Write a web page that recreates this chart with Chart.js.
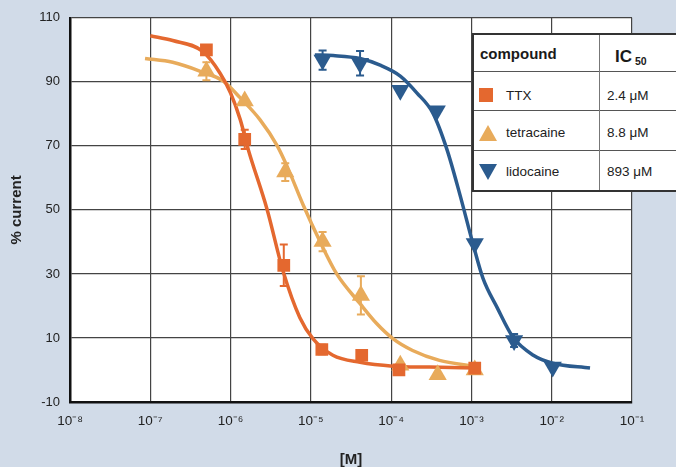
<!DOCTYPE html>
<html>
<head>
<meta charset="utf-8">
<script src="https://cdn.jsdelivr.net/npm/chart.js@4/dist/chart.umd.min.js"></script>
<style>
html,body{margin:0;padding:0;background:#d1dbe8;width:676px;height:467px;overflow:hidden;font-family:"Liberation Sans",Arial,sans-serif;}
#wrap{position:relative;width:676px;height:467px;overflow:hidden;}
#chart{position:absolute;left:0;top:0;}
#legend{position:absolute;left:472px;top:33px;width:240px;height:159px;background:#fff;border:2px solid #333;border-right:none;box-sizing:border-box;}
.hl{position:absolute;left:0;width:100%;height:0;border-top:1.5px solid #555;}
.vl{position:absolute;top:0;height:100%;width:0;border-left:1.5px solid #777;}
.cell{position:absolute;height:20px;line-height:20px;color:#222;white-space:nowrap;}
.hdr{font-weight:bold;color:#1a1a1a;}
</style>
</head>
<body>
<div id="wrap">
<canvas id="chart" width="676" height="467"></canvas>
<div id="legend"></div>
</div>
<script>
// ---- data ----
const categories = ['TTX', 'tetracaine', 'lidocaine'];
const ic50Labels = ['2.4 \u03bcM', '8.8 \u03bcM', '893 \u03bcM'];
const seriesColors = ['#e4682f', '#e8ab5b', '#2b5b8e'];
const xTickValues = [1e-8, 1e-7, 1e-6, 1e-5, 1e-4, 1e-3, 1e-2, 1e-1];
const xTickLabels = ['10\u207b\u2078', '10\u207b\u2077', '10\u207b\u2076', '10\u207b\u2075', '10\u207b\u2074', '10\u207b\u00b3', '10\u207b\u00b2', '10\u207b\u00b9'];

// measured points (mean and error)
const ttxConc = [5e-7, 1.5e-6, 4.6e-6, 1.37e-5, 4.3e-5, 1.25e-4, 1.1e-3];
const ttxCurrent = [100, 72, 32.7, 6.4, 4.6, 0, 0.6];
const ttxError = [0, 3, 6.5, 1.5, 0, 0, 0];

const tetConc = [5e-7, 1.5e-6, 4.8e-6, 1.4e-5, 4.2e-5, 1.3e-4, 3.8e-4, 1.1e-3];
const tetCurrent = [93.3, 84, 61.8, 40.1, 23.3, 1.5, -1.5, 0];
const tetError = [2.8, 0, 2.8, 3, 6, 0, 0, 0];

const lidoConc = [1.4e-5, 4.1e-5, 1.3e-4, 3.7e-4, 1.1e-3, 3.4e-3, 1.03e-2];
const lidoCurrent = [96.8, 95.8, 87.4, 81, 39.5, 9.2, 0.9];
const lidoError = [3, 3.8, 0, 0, 0, 2, 0];

// fitted curves
const ttxFitConc = [1e-7, 1.9e-7, 4.5e-7, 7.4e-7, 1e-6, 1.32e-6, 1.66e-6, 2.84e-6, 4.5e-6, 7.3e-6, 1.06e-5, 1.88e-5, 4.1e-5, 1.05e-4, 3e-4, 1.2e-3];
const ttxFitCurrent = [104.4, 102.9, 99.5, 92.7, 86.5, 78.2, 68.9, 50.3, 30.9, 16.3, 9.8, 4.6, 2.4, 1.2, 0.9, 0.6];

const tetFitConc = [8.6e-8, 1.9e-7, 4.2e-7, 8.1e-7, 1.32e-6, 2.32e-6, 3.8e-6, 5e-6, 8e-6, 1.3e-5, 2.1e-5, 4.1e-5, 6.6e-5, 1.05e-4, 1.85e-4, 4e-4, 1.05e-3];
const tetFitCurrent = [97.3, 96.1, 93.3, 90.2, 85, 78.2, 70.1, 63.9, 51.6, 40.1, 30, 20.7, 14.5, 9.8, 6.1, 3.0, 1.2];

const lidoFitConc = [1.12e-5, 1.9e-5, 4.1e-5, 7.3e-5, 1.3e-4, 2.1e-4, 3.3e-4, 4.95e-4, 7.2e-4, 1.05e-3, 1.39e-3, 2.1e-3, 3.3e-3, 5.9e-3, 1.03e-2, 3e-2];
const lidoFitCurrent = [98.4, 98.2, 97.3, 95.2, 91.8, 86.5, 80.3, 68.9, 54.7, 39.2, 28.7, 19.4, 10.2, 4.6, 2.1, 0.6];

// ---- build ----
const pts = (xs, ys) => xs.map((x, i) => ({x: x, y: ys[i]}));

function curve(label, xs, ys, color) {
  return {
    type: 'line', label: label, data: pts(xs, ys),
    borderColor: color, borderWidth: 3.5, pointRadius: 0,
    cubicInterpolationMode: 'monotone', fill: false, order: 2
  };
}
function markers(label, xs, ys, errs, color, style, rot, r) {
  return {
    type: 'scatter', label: label, data: pts(xs, ys), errorBars: errs,
    pointStyle: style, rotation: rot, pointRadius: r, pointHoverRadius: r,
    backgroundColor: color, borderColor: color, borderWidth: 0, order: 1
  };
}

const plotBg = {
  id: 'plotBg',
  beforeDraw(chart) {
    const {ctx, chartArea: a} = chart;
    ctx.save();
    ctx.fillStyle = '#ffffff';
    ctx.fillRect(a.left, a.top, a.right - a.left, a.bottom - a.top);
    ctx.restore();
  }
};

const errorBarPlugin = {
  id: 'errorBars',
  beforeDatasetDraw(chart, args) {
    const ds = chart.data.datasets[args.index];
    if (!ds.errorBars) return;
    const xs = chart.scales.x, ys = chart.scales.y, ctx = chart.ctx;
    ctx.save();
    ctx.strokeStyle = ds.borderColor;
    ctx.lineWidth = 2;
    ds.data.forEach((p, i) => {
      const e = ds.errorBars[i];
      if (!e) return;
      const px = xs.getPixelForValue(p.x);
      const y1 = ys.getPixelForValue(p.y + e);
      const y2 = ys.getPixelForValue(p.y - e);
      ctx.beginPath();
      ctx.moveTo(px, y1); ctx.lineTo(px, y2);
      ctx.moveTo(px - 4, y1); ctx.lineTo(px + 4, y1);
      ctx.moveTo(px - 4, y2); ctx.lineTo(px + 4, y2);
      ctx.stroke();
    });
    ctx.restore();
  }
};

new Chart(document.getElementById('chart'), {
  data: {
    datasets: [
      markers(categories[0], ttxConc, ttxCurrent, ttxError, seriesColors[0], 'rect', 0, 9),
      markers(categories[1], tetConc, tetCurrent, tetError, seriesColors[1], 'triangle', 0, 10.5),
      markers(categories[2], lidoConc, lidoCurrent, lidoError, seriesColors[2], 'triangle', 180, 10.5),
      curve(categories[0] + ' fit', ttxFitConc, ttxFitCurrent, seriesColors[0]),
      curve(categories[1] + ' fit', tetFitConc, tetFitCurrent, seriesColors[1]),
      curve(categories[2] + ' fit', lidoFitConc, lidoFitCurrent, seriesColors[2])
    ]
  },
  options: {
    responsive: false,
    animation: false,
    devicePixelRatio: 1,
    layout: {padding: {top: 14, right: 44, left: 0, bottom: 0}},
    plugins: {legend: {display: false}, tooltip: {enabled: false}},
    scales: {
      x: {
        type: 'logarithmic', position: 'bottom', min: 1e-8, max: 1e-1,
        afterBuildTicks(scale) { scale.ticks = xTickValues.map(v => ({value: v})); },
        afterFit(scale) { scale.height = 65; },
        ticks: {
          autoSkip: false, maxRotation: 0, padding: 11,
          color: '#222', font: {family: '"Liberation Sans", Arial, sans-serif', size: 13.5},
          callback: (v, i) => xTickLabels[i]
        },
        grid: {color: '#444', lineWidth: 1.2, drawTicks: false},
        border: {color: '#111', width: 2.5},
        title: {display: true, text: '[M]', color: '#222', padding: {top: 0, bottom: 0},
          font: {family: '"Liberation Sans", Arial, sans-serif', size: 15, weight: 'bold', lineHeight: 1}}
      },
      y: {
        type: 'linear', min: -10, max: 110,
        afterFit(scale) { scale.width = 70; },
        ticks: {
          stepSize: 20, padding: 10, color: '#222',
          font: {family: '"Liberation Sans", Arial, sans-serif', size: 13}
        },
        grid: {color: '#444', lineWidth: 1.2, drawTicks: false},
        border: {color: '#111', width: 2.5},
        title: {display: true, text: '% current', color: '#222', padding: {top: 9, bottom: 0},
          font: {family: '"Liberation Sans", Arial, sans-serif', size: 15, weight: 'bold', lineHeight: 1}}
      }
    }
  },
  plugins: [plotBg, errorBarPlugin]
});

// ---- legend table (HTML) ----
const lg = document.getElementById('legend');
const L0 = 472, T0 = 33;
function el(cls, css, html) {
  const d = document.createElement('div');
  d.className = cls;
  Object.assign(d.style, css);
  if (html !== undefined) d.innerHTML = html;
  lg.appendChild(d);
  return d;
}
[71, 110, 150].forEach(y => el('hl', {top: (y - T0 - 2) + 'px'}));
el('vl', {left: (599 - L0 - 2) + 'px'});
el('cell hdr', {left: (480 - L0 - 2) + 'px', top: (54 - T0 - 2 - 10) + 'px', fontSize: '15px'}, 'compound');
el('cell hdr', {left: (615 - L0 - 2) + 'px', top: (57 - T0 - 2 - 10) + 'px', fontSize: '17px'},
  'IC<span style="font-size:10.5px;position:relative;top:3px;margin-left:3px">50</span>');
const rowCenters = [96, 133, 172];
const markerSvg = [
  c => `<svg width="16" height="16"><rect x="1" y="1" width="14" height="14" fill="${c}"/></svg>`,
  c => `<svg width="20" height="18"><polygon points="10,1 19,17 1,17" fill="${c}"/></svg>`,
  c => `<svg width="20" height="18"><polygon points="1,1 19,1 10,17" fill="${c}"/></svg>`
];
categories.forEach((name, i) => {
  const cy = rowCenters[i] - T0 - 2;
  el('cell', {left: (478 - L0 - 2) + 'px', top: (cy - 9) + 'px', height: '18px', lineHeight: '0'}, markerSvg[i](seriesColors[i]));
  el('cell', {left: (506 - L0 - 2) + 'px', top: (cy - 10) + 'px', fontSize: '13.5px'}, name);
  el('cell', {left: (607 - L0 - 2) + 'px', top: (cy - 10) + 'px', fontSize: '13.5px'}, ic50Labels[i]);
});
</script>
</body>
</html>
